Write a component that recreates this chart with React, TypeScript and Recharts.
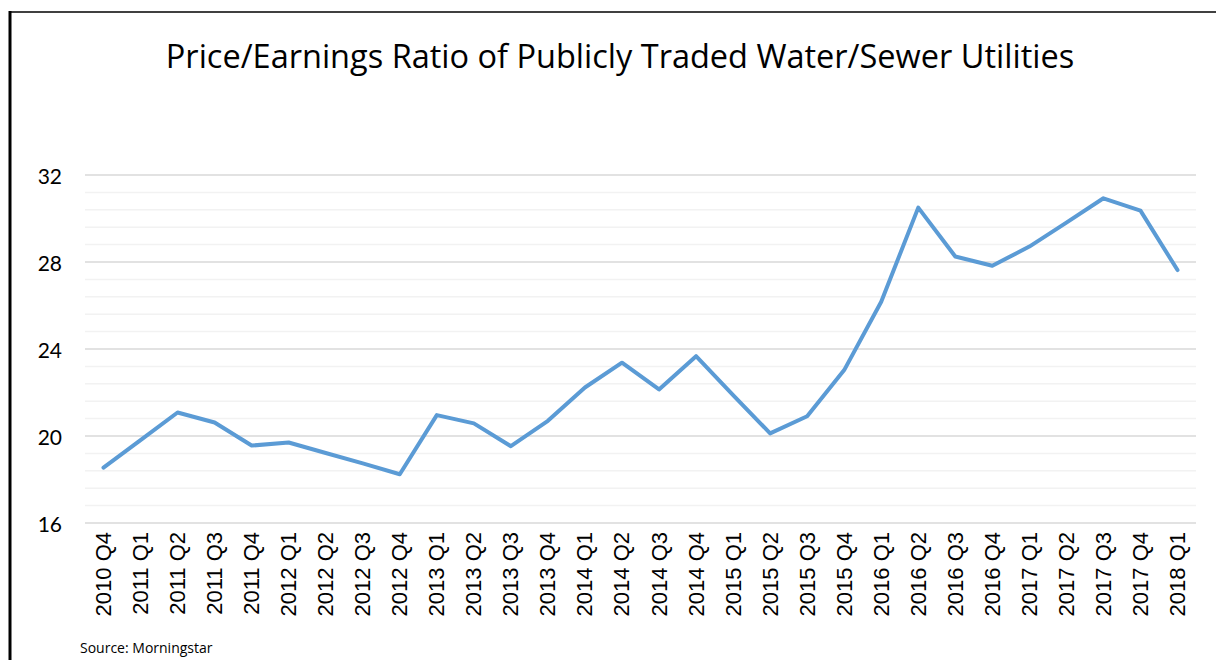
import React from 'react';
import { LineChart, Line, XAxis, YAxis, CartesianGrid, ReferenceLine } from 'recharts';

const quarters = [
  '2010 Q4', '2011 Q1', '2011 Q2', '2011 Q3', '2011 Q4', '2012 Q1', '2012 Q2', '2012 Q3', '2012 Q4',
  '2013 Q1', '2013 Q2', '2013 Q3', '2013 Q4', '2014 Q1', '2014 Q2', '2014 Q3', '2014 Q4',
  '2015 Q1', '2015 Q2', '2015 Q3', '2015 Q4', '2016 Q1', '2016 Q2', '2016 Q3', '2016 Q4',
  '2017 Q1', '2017 Q2', '2017 Q3', '2017 Q4', '2018 Q1',
];

const peRatio = [
  18.55, 19.81, 21.08, 20.62, 19.56, 19.7, 19.22, 18.74, 18.24,
  20.96, 20.58, 19.53, 20.7, 22.23, 23.37, 22.14, 23.67,
  21.88, 20.12, 20.91, 23.03, 26.17, 30.5, 28.25, 27.83,
  28.71, 29.81, 30.93, 30.36, 27.63,
];

const majorTicks = [16, 20, 24, 28, 32];
const minorTicks = [16.8, 17.6, 18.4, 19.2, 20.8, 21.6, 22.4, 23.2, 24.8, 25.6, 26.4, 27.2, 28.8, 29.6, 30.4, 31.2];

const data = quarters.map((q, i) => ({ name: q, pe: peRatio[i] }));

const LABEL_FONT = 'Lato, "Open Sans", sans-serif';
const TITLE_FONT = '"Open Sans", Lato, sans-serif';

const YTick = (props: any) => {
  const { y, payload } = props;
  return (
    <text x={62} y={y} textAnchor="end" dominantBaseline="central" fill="#000" fontSize={21} fontFamily={LABEL_FONT}>
      {payload.value}
    </text>
  );
};

const XTick = (props: any) => {
  const { x, payload } = props;
  const y = 532;
  return (
    <text
      x={x}
      y={y}
      transform={`rotate(-90, ${x}, ${y})`}
      textAnchor="end"
      dominantBaseline="central"
      fill="#000"
      fontSize={22}
      fontFamily='"Liberation Sans", Arial, sans-serif'
    >
      {payload.value}
    </text>
  );
};

export default function App() {
  return (
    <div style={{ position: 'absolute', left: 0, top: 0, width: 1216, height: 660, background: '#fff' }}>
      <LineChart width={1216} height={660} data={data} margin={{ top: 175, right: 20, bottom: 37, left: 0 }}>
        <CartesianGrid horizontal vertical={false} stroke="#d9d9d9" strokeWidth={1.5} />
        {minorTicks.map((v) => (
          <ReferenceLine key={v} y={v} stroke="#f2f2f2" strokeWidth={1.5} />
        ))}
        <XAxis
          dataKey="name"
          axisLine={false}
          tickLine={false}
          interval={0}
          height={100}
          padding={{ left: 18.5, right: 18.5 }}
          tick={<XTick />}
        />
        <YAxis
          domain={[16, 32]}
          ticks={majorTicks}
          axisLine={false}
          tickLine={false}
          width={85}
          tick={<YTick />}
        />
        <Line
          type="linear"
          dataKey="pe"
          stroke="#5b9bd5"
          strokeWidth={4}
          strokeLinejoin="round"
          strokeLinecap="round"
          dot={false}
          activeDot={false}
          isAnimationActive={false}
        />
      </LineChart>
      <svg width={1216} height={660} style={{ position: 'absolute', left: 0, top: 0, pointerEvents: 'none' }}>
        <line x1={10} y1={12} x2={1216} y2={12} stroke="#000" strokeWidth={1.5} />
        <line x1={10} y1={11} x2={10} y2={660} stroke="#000" strokeWidth={3} />
        <text x={620} y={67.5} textAnchor="middle" fontSize={32.5} fontFamily={TITLE_FONT} fill="#000">
          Price/Earnings Ratio of Publicly Traded Water/Sewer Utilities
        </text>
        <text x={80} y={653} fontSize={14} fontFamily={TITLE_FONT} fill="#000">
          Source: Morningstar
        </text>
      </svg>
    </div>
  );
}
